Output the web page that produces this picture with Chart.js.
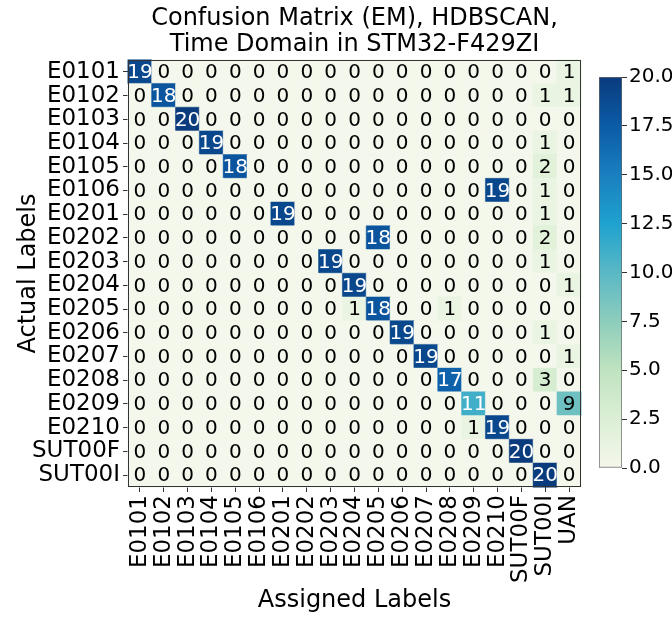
<!DOCTYPE html>
<html>
<head>
<meta charset="utf-8">
<script src="https://cdn.jsdelivr.net/npm/chart.js@4/dist/chart.umd.min.js"></script>
<style>
  html, body { margin: 0; padding: 0; background: #fff; }
  #wrap { position: relative; width: 672px; height: 617px; }
  #wrap canvas { position: absolute; left: 0; top: 0; }
</style>
</head>
<body>
<div id="wrap">
  <canvas id="cm" width="672" height="617"></canvas>
  <canvas id="cbar" width="672" height="617"></canvas>
</div>
<script>
// rows = actual labels, columns = assigned labels
var actualLabels = ['E0101', 'E0102', 'E0103', 'E0104', 'E0105', 'E0106',
  'E0201', 'E0202', 'E0203', 'E0204', 'E0205', 'E0206', 'E0207', 'E0208',
  'E0209', 'E0210', 'SUT00F', 'SUT00I'];
var assignedLabels = ['E0101', 'E0102', 'E0103', 'E0104', 'E0105', 'E0106',
  'E0201', 'E0202', 'E0203', 'E0204', 'E0205', 'E0206', 'E0207', 'E0208',
  'E0209', 'E0210', 'SUT00F', 'SUT00I', 'UAN'];

var counts = [
  [19, 0, 0, 0, 0, 0, 0, 0, 0, 0, 0, 0, 0, 0, 0, 0, 0, 0, 1],
  [0, 18, 0, 0, 0, 0, 0, 0, 0, 0, 0, 0, 0, 0, 0, 0, 0, 1, 1],
  [0, 0, 20, 0, 0, 0, 0, 0, 0, 0, 0, 0, 0, 0, 0, 0, 0, 0, 0],
  [0, 0, 0, 19, 0, 0, 0, 0, 0, 0, 0, 0, 0, 0, 0, 0, 0, 1, 0],
  [0, 0, 0, 0, 18, 0, 0, 0, 0, 0, 0, 0, 0, 0, 0, 0, 0, 2, 0],
  [0, 0, 0, 0, 0, 0, 0, 0, 0, 0, 0, 0, 0, 0, 0, 19, 0, 1, 0],
  [0, 0, 0, 0, 0, 0, 19, 0, 0, 0, 0, 0, 0, 0, 0, 0, 0, 1, 0],
  [0, 0, 0, 0, 0, 0, 0, 0, 0, 0, 18, 0, 0, 0, 0, 0, 0, 2, 0],
  [0, 0, 0, 0, 0, 0, 0, 0, 19, 0, 0, 0, 0, 0, 0, 0, 0, 1, 0],
  [0, 0, 0, 0, 0, 0, 0, 0, 0, 19, 0, 0, 0, 0, 0, 0, 0, 0, 1],
  [0, 0, 0, 0, 0, 0, 0, 0, 0, 1, 18, 0, 0, 1, 0, 0, 0, 0, 0],
  [0, 0, 0, 0, 0, 0, 0, 0, 0, 0, 0, 19, 0, 0, 0, 0, 0, 1, 0],
  [0, 0, 0, 0, 0, 0, 0, 0, 0, 0, 0, 0, 19, 0, 0, 0, 0, 0, 1],
  [0, 0, 0, 0, 0, 0, 0, 0, 0, 0, 0, 0, 0, 17, 0, 0, 0, 3, 0],
  [0, 0, 0, 0, 0, 0, 0, 0, 0, 0, 0, 0, 0, 0, 11, 0, 0, 0, 9],
  [0, 0, 0, 0, 0, 0, 0, 0, 0, 0, 0, 0, 0, 0, 1, 19, 0, 0, 0],
  [0, 0, 0, 0, 0, 0, 0, 0, 0, 0, 0, 0, 0, 0, 0, 0, 20, 0, 0],
  [0, 0, 0, 0, 0, 0, 0, 0, 0, 0, 0, 0, 0, 0, 0, 0, 0, 20, 0]
];

var titleLines = ['Confusion Matrix (EM), HDBSCAN,', 'Time Domain in STM32-F429ZI'];
var cbMin = 0, cbMax = 20, cbStep = 2.5;

// GnBu-like ramp, tuned to the picture
var ramp = ['#f4f7eb', '#dcefd6', '#bfe3c0', '#8dcdbc', '#5ab8c5',
  '#1fa2cf', '#1a7fbf', '#0b5ba6', '#0a3b7d'];

var FONT = "'DejaVu Sans', 'Liberation Sans', sans-serif";
var INK = '#000';
var EDGE = '#333';

function hexRgb(h) {
  return [parseInt(h.substr(1, 2), 16), parseInt(h.substr(3, 2), 16), parseInt(h.substr(5, 2), 16)];
}

function cmap(v) {
  var t = Math.max(0, Math.min(1, (v - cbMin) / (cbMax - cbMin))) * (ramp.length - 1);
  var i = Math.min(Math.floor(t), ramp.length - 2);
  var f = t - i;
  var a = hexRgb(ramp[i]), b = hexRgb(ramp[i + 1]);
  var c = a.map(function(x, k) { return Math.round(x + (b[k] - x) * f); });
  return 'rgb(' + c.join(',') + ')';
}

// flatten matrix into scatter points on the two category axes
var cells = [];
counts.forEach(function(row, r) {
  row.forEach(function(v, c) {
    cells.push({ x: assignedLabels[c], y: actualLabels[r], v: v });
  });
});

function cellSize(chart) {
  var a = chart.chartArea;
  if (!a) return 10;
  return (a.right - a.left) / assignedLabels.length;
}

// numbers in cells + axes frame
var cellText = {
  id: 'cellText',
  afterDatasetsDraw: function(chart) {
    var ctx = chart.ctx;
    var meta = chart.getDatasetMeta(0);
    ctx.save();
    ctx.font = '20px ' + FONT;
    ctx.textAlign = 'center';
    ctx.textBaseline = 'middle';
    meta.data.forEach(function(pt, i) {
      var v = cells[i].v;
      ctx.fillStyle = v > (cbMax / 2) ? '#fff' : INK;
      ctx.fillText(String(v), pt.x, pt.y + 1);
    });
    var a = chart.chartArea;
    ctx.strokeStyle = EDGE;
    ctx.lineWidth = 1;
    ctx.strokeRect(a.left + 0.5, a.top + 0.5, a.right - a.left - 1, a.bottom - a.top - 1);
    ctx.restore();
  }
};

new Chart(document.getElementById('cm'), {
  type: 'scatter',
  data: {
    datasets: [{
      data: cells,
      pointStyle: 'rect',
      pointRadius: function(ctx) { return cellSize(ctx.chart) / Math.SQRT2 + 0.3; },
      pointHoverRadius: function(ctx) { return cellSize(ctx.chart) / Math.SQRT2 + 0.3; },
      backgroundColor: function(ctx) { return ctx.raw ? cmap(ctx.raw.v) : '#fff'; },
      borderColor: function(ctx) { return ctx.raw ? cmap(ctx.raw.v) : '#fff'; },
      borderWidth: 0.5
    }]
  },
  options: {
    responsive: false,
    animation: false,
    events: [],
    layout: { padding: { left: 0, top: 0, right: 91, bottom: 0 } },
    plugins: {
      legend: { display: false },
      tooltip: { enabled: false },
      title: {
        display: true,
        text: titleLines,
        color: INK,
        fullSize: false,
        font: { family: FONT, size: 24, weight: 'normal', lineHeight: 26 / 24 },
        padding: { top: 6, bottom: 2 }
      }
    },
    scales: {
      x: {
        type: 'category',
        labels: assignedLabels,
        offset: true,
        border: { display: false },
        grid: { display: true, drawOnChartArea: false, drawTicks: true, tickLength: 5, color: EDGE },
        ticks: {
          autoSkip: false, minRotation: 90, maxRotation: 90, padding: 3,
          color: INK, font: { family: FONT, size: 23 }
        },
        title: {
          display: true, text: 'Assigned Labels', color: INK,
          font: { family: FONT, size: 24, lineHeight: 1.2 },
          padding: { top: 0, bottom: 2 }
        },
        afterFit: function(s) { s.height = 130; s.paddingLeft = 0; s.paddingRight = 0; }
      },
      y: {
        type: 'category',
        labels: actualLabels,
        offset: true,
        border: { display: false },
        grid: { display: true, drawOnChartArea: false, drawTicks: true, tickLength: 5, color: EDGE },
        ticks: { autoSkip: false, padding: 3, color: INK, font: { family: FONT, size: 23 } },
        title: {
          display: true, text: 'Actual Labels', color: INK,
          font: { family: FONT, size: 24, lineHeight: 1.2 },
          padding: { top: 14, bottom: 0 }
        },
        afterFit: function(s) { s.width = 128; s.paddingTop = 0; s.paddingBottom = 0; }
      }
    }
  },
  plugins: [cellText]
});

// colour bar
new Chart(document.getElementById('cbar'), {
  type: 'bar',
  data: {
    labels: ['cb'],
    datasets: [{
      data: [[cbMin, cbMax]],
      barPercentage: 1,
      categoryPercentage: 1,
      borderColor: '#666',
      borderWidth: 1,
      borderSkipped: false,
      backgroundColor: function(ctx) {
        var ch = ctx.chart;
        if (!ch.chartArea) return ramp[0];
        var ys = ch.scales.y;
        var g = ch.ctx.createLinearGradient(0, ys.getPixelForValue(cbMin), 0, ys.getPixelForValue(cbMax));
        ramp.forEach(function(c, i) { g.addColorStop(i / (ramp.length - 1), c); });
        return g;
      }
    }]
  },
  options: {
    responsive: false,
    animation: false,
    events: [],
    layout: { padding: { left: 599, top: 77, right: 0, bottom: 149 } },
    plugins: { legend: { display: false }, tooltip: { enabled: false }, title: { display: false } },
    scales: {
      x: { display: false },
      y: {
        position: 'right',
        min: cbMin,
        max: cbMax,
        border: { display: false },
        grid: { display: true, drawOnChartArea: false, drawTicks: true, tickLength: 5, color: EDGE },
        ticks: {
          stepSize: cbStep, padding: 2, color: INK,
          font: { family: FONT, size: 20 },
          callback: function(v) { return Number(v).toFixed(1); }
        },
        afterFit: function(s) { s.width = 50; s.paddingTop = 0; s.paddingBottom = 0; }
      }
    }
  }
});
</script>
</body>
</html>
